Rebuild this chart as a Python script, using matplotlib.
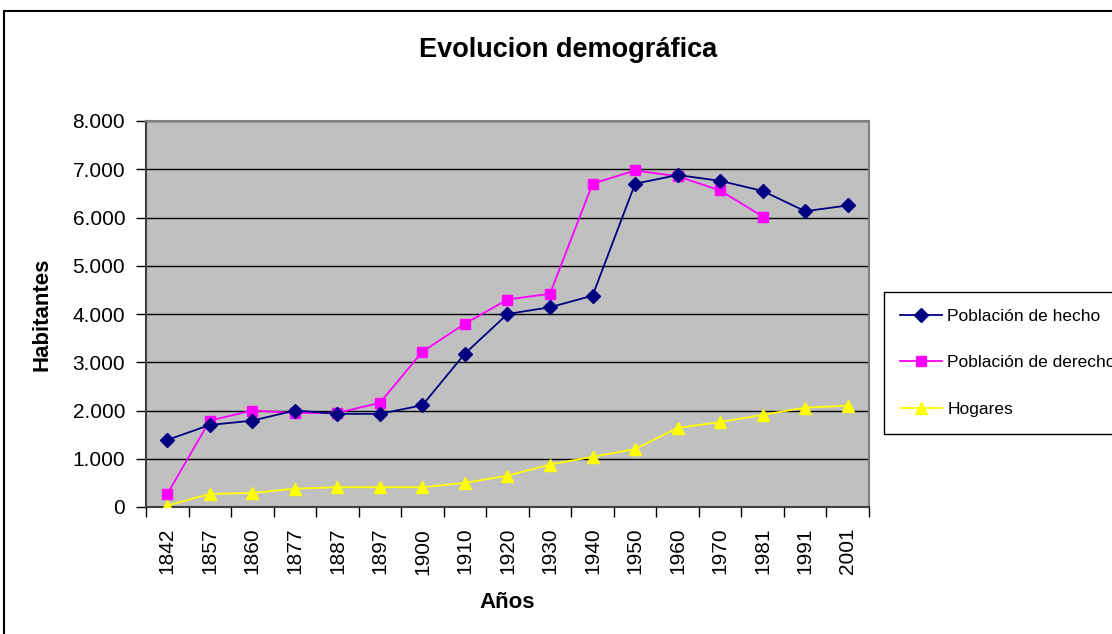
import numpy as np
import matplotlib
matplotlib.use("Agg")
import matplotlib.pyplot as plt
from matplotlib.patches import Rectangle

years = ["1842", "1857", "1860", "1877", "1887", "1897", "1900", "1910", "1920",
         "1930", "1940", "1950", "1960", "1970", "1981", "1991", "2001"]
poblacion_hecho = [1390, 1700, 1790, 2000, 1930, 1930, 2110, 3180, 4000,
                   4140, 4380, 6700, 6880, 6760, 6550, 6130, 6250]
poblacion_derecho = [270, 1790, 2000, 1950, 1950, 2160, 3220, 3800, 4300,
                     4420, 6700, 6975, 6855, 6560, 6020, np.nan, np.nan]
hogares = [30, 270, 290, 380, 410, 410, 410, 500, 650,
           880, 1040, 1200, 1640, 1760, 1910, 2060, 2100]
yticks = [0, 1000, 2000, 3000, 4000, 5000, 6000, 7000, 8000]
ytick_labels = ["0", "1.000", "2.000", "3.000", "4.000", "5.000", "6.000", "7.000", "8.000"]

plt.rcParams['font.family'] = ['Liberation Sans', 'DejaVu Sans']

W, H = 1112, 634
fig = plt.figure(figsize=(W / 100, H / 100), dpi=100)
fig.patch.set_facecolor('white')

# outer chart border
fig.patches.append(Rectangle((4 / W, -0.05), 1.2, (H - 11) / H + 0.05,
                             transform=fig.transFigure, fill=False,
                             edgecolor='black', linewidth=1.5, zorder=0))

ax = fig.add_axes([146 / W, 1 - 507 / H, (869 - 146) / W, (507 - 121) / H])
ax.set_facecolor('#C0C0C0')

x = np.arange(len(years))
l1, = ax.plot(x, poblacion_hecho, color='#000080', marker='D', markersize=7,
              linewidth=1.3, label='Población de hecho', zorder=5)
l2, = ax.plot(x, poblacion_derecho, color='#FF00FF', marker='s', markersize=7.5,
              linewidth=1.3, label='Población de derecho', zorder=4)
l3, = ax.plot(x, hogares, color='#FFFF00', marker='^', markersize=9,
              linewidth=1.3, label='Hogares', zorder=3)

ax.set_xlim(-0.5, len(years) - 0.5)
ax.set_ylim(0, 8000)
ax.set_yticks(yticks)
ax.set_yticklabels(ytick_labels, fontsize=15)
ax.grid(axis='y', color='black', linewidth=1.0, zorder=1)
ax.set_axisbelow(True)

ax.set_xticks(np.arange(-0.5, len(years), 1.0))
ax.set_xticklabels([])
ax.set_xticks(x, minor=True)
ax.set_xticklabels(years, minor=True, rotation=90, fontsize=15)
ax.tick_params(axis='x', which='major', direction='out', length=7, width=1, color='black')
ax.tick_params(axis='x', which='minor', length=0, pad=15)
ax.tick_params(axis='y', direction='out', length=7, width=1, color='black', pad=8)

for s in ['top', 'right']:
    ax.spines[s].set_color('#808080')
    ax.spines[s].set_linewidth(1.5)
for s in ['left', 'bottom']:
    ax.spines[s].set_color('#404040')
    ax.spines[s].set_linewidth(1.5)

ax.set_ylabel('Habitantes', fontsize=16, fontweight='bold')
ax.yaxis.set_label_coords((42 - 146) / (869 - 146), 0.5)
ax.yaxis.label.set_va('center')
ax.set_xlabel('Años', fontsize=16, fontweight='bold')
ax.xaxis.set_label_coords(0.5, (507 - 603) / (507 - 121))
ax.xaxis.label.set_va('center')

fig.text(568 / W, 1 - 50 / H, 'Evolucion demográfica', fontsize=19.5,
         fontweight='bold', ha='center', va='center')

leg = fig.legend(handles=[l1, l2, l3], loc='upper left',
                 bbox_to_anchor=(884 / W, 1 - 292 / H), borderaxespad=0,
                 fontsize=12.5, frameon=True, fancybox=False, edgecolor='black',
                 framealpha=1, labelspacing=1.82, handlelength=2.4,
                 handletextpad=0.3, borderpad=0.95)
leg.get_frame().set_linewidth(1.0)

fig.savefig('out.png', dpi=100)
